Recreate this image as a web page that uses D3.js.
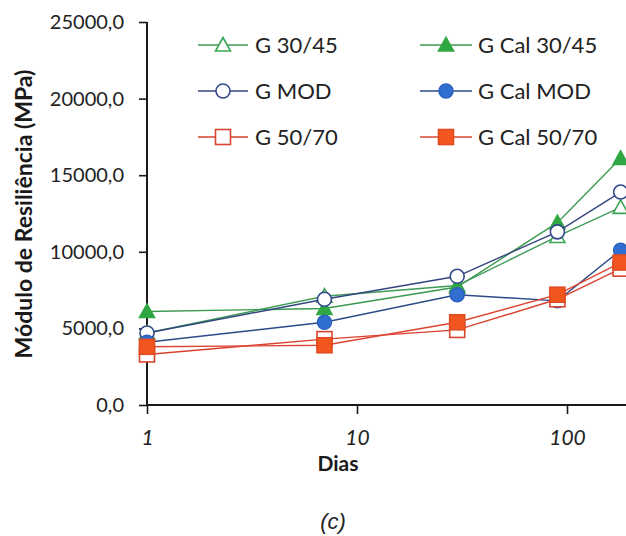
<!DOCTYPE html>
<html>
<head>
<meta charset="utf-8">
<script src="https://cdn.jsdelivr.net/npm/d3@7"></script>
<style>
  html, body { margin: 0; padding: 0; background: #fff; }
  svg { display: block; }
</style>
</head>
<body>
<svg id="chart" width="626" height="536"></svg>
<script>
// Curing time (days) and resilient modulus (MPa) per mixture
const dias = [1, 7, 30, 90, 180];
const g3045 = [4700, 7100, 7800, 11000, 12900];
const gCal3045 = [6100, 6300, 7700, 11900, 16100];
const gMod = [4700, 6900, 8400, 11300, 13900];
const gCalMod = [4100, 5400, 7200, 6800, 10100];
const g5070 = [3300, 4300, 4900, 6900, 8900];
const gCal5070 = [3800, 3900, 5400, 7200, 9300];

const yTicks = [0, 5000, 10000, 15000, 20000, 25000];
const xTicks = [1, 10, 100];

const seriesNames = ["G 30/45", "G Cal 30/45", "G MOD", "G Cal MOD", "G 50/70", "G Cal 50/70"];

const series = [
  { name: seriesNames[0], values: g3045, shape: "triangle", fill: "#fff", stroke: "#3aa655", line: "#3f9c58" },
  { name: seriesNames[1], values: gCal3045, shape: "triangle", fill: "#2fa843", stroke: "#2fa843", line: "#3c9a4e" },
  { name: seriesNames[2], values: gMod, shape: "circle", fill: "#fff", stroke: "#33488a", line: "#33457f" },
  { name: seriesNames[3], values: gCalMod, shape: "circle", fill: "#2f6fd2", stroke: "#2f62bd", line: "#2c4a88" },
  { name: seriesNames[4], values: g5070, shape: "square", fill: "#fff", stroke: "#d8452f", line: "#d8412e" },
  { name: seriesNames[5], values: gCal5070, shape: "square", fill: "#f2561f", stroke: "#e24c22", line: "#dd4530" }
];

const svg = d3.select("#chart");
const FONT = "Lato, 'Open Sans', sans-serif";

const x = d3.scaleLog().domain([1, 1000]).range([147, 777]);
const y = d3.scaleLinear().domain([0, 25000]).range([405, 22]);

const fmt = d => d3.format(".1f")(d).replace(".", ",");

// Y axis
const yAxis = svg.append("g")
  .attr("transform", "translate(147,0)")
  .call(d3.axisLeft(y).tickValues(yTicks).tickSize(8).tickPadding(15).tickFormat(fmt));
yAxis.select(".domain").attr("stroke", "#1a1a1a").attr("stroke-width", 2).attr("d", "M0," + y(25000) + "V" + y(0));
yAxis.selectAll(".tick line").attr("stroke", "#1a1a1a").attr("stroke-width", 1.6);
yAxis.selectAll(".tick text")
  .attr("font-family", FONT).attr("font-size", 20).attr("fill", "#222");

// X axis (logarithmic)
const xAxis = svg.append("g")
  .attr("transform", "translate(0,405)")
  .call(d3.axisBottom(x).tickValues(xTicks).tickSize(9).tickPadding(16).tickFormat(d3.format("d")));
xAxis.select(".domain").attr("stroke", "#1a1a1a").attr("stroke-width", 2).attr("d", "M147,0H777");
xAxis.selectAll(".tick line").attr("stroke", "#1a1a1a").attr("stroke-width", 1.6);
xAxis.selectAll(".tick text")
  .attr("font-family", FONT).attr("font-size", 21).attr("font-style", "italic").attr("fill", "#222");

// Axis titles
svg.append("text")
  .attr("transform", "translate(32,214) rotate(-90)")
  .attr("text-anchor", "middle")
  .attr("font-family", FONT).attr("font-weight", "bold").attr("font-size", 23)
  .attr("fill", "#1a1a1a")
  .text("Módulo de Resiliência (MPa)");

svg.append("text")
  .attr("x", 338).attr("y", 471)
  .attr("text-anchor", "middle")
  .attr("font-family", FONT).attr("font-weight", "bold").attr("font-size", 21)
  .attr("fill", "#1a1a1a")
  .text("Dias");

svg.append("text")
  .attr("x", 333).attr("y", 529)
  .attr("text-anchor", "middle")
  .attr("font-family", "'Liberation Sans', Arial, sans-serif").attr("font-style", "italic").attr("font-size", 22)
  .attr("fill", "#222")
  .text("(c)");

// Marker drawing
function marker(g, s, cx, cy) {
  if (s.shape === "triangle") {
    g.append("path")
      .attr("d", `M${cx},${cy - 7.5}L${cx + 7.5},${cy + 6}L${cx - 7.5},${cy + 6}Z`)
      .attr("fill", s.fill).attr("stroke", s.stroke).attr("stroke-width", 1.6);
  } else if (s.shape === "circle") {
    g.append("circle")
      .attr("cx", cx).attr("cy", cy).attr("r", 7)
      .attr("fill", s.fill).attr("stroke", s.stroke).attr("stroke-width", 1.6);
  } else {
    g.append("rect")
      .attr("x", cx - 7.5).attr("y", cy - 7.5).attr("width", 15).attr("height", 15)
      .attr("fill", s.fill).attr("stroke", s.stroke).attr("stroke-width", 1.6);
  }
}

const line = d3.line().x((d, i) => x(dias[i])).y(d => y(d));

const plot = svg.append("g");
series.forEach(s => {
  const g = plot.append("g");
  g.append("path")
    .attr("d", line(s.values))
    .attr("fill", "none").attr("stroke", s.line).attr("stroke-width", 1.4);
  s.values.forEach((v, i) => marker(g, s, x(dias[i]), y(v)));
});

// Legend: two columns, three rows
const legendRows = [45, 91, 137];
const legendCols = [{ x0: 198, x1: 248, tx: 255 }, { x0: 420, x1: 472, tx: 478 }];
series.forEach((s, i) => {
  const col = legendCols[i % 2];
  const ry = legendRows[Math.floor(i / 2)];
  const g = svg.append("g");
  g.append("line")
    .attr("x1", col.x0).attr("x2", col.x1).attr("y1", ry).attr("y2", ry)
    .attr("stroke", s.line).attr("stroke-width", 1.4);
  marker(g, s, (col.x0 + col.x1) / 2, ry);
  g.append("text")
    .attr("x", col.tx).attr("y", ry + 8)
    .attr("font-family", FONT).attr("font-size", 22).attr("fill", "#222")
    .text(s.name);
});
</script>
</body>
</html>
